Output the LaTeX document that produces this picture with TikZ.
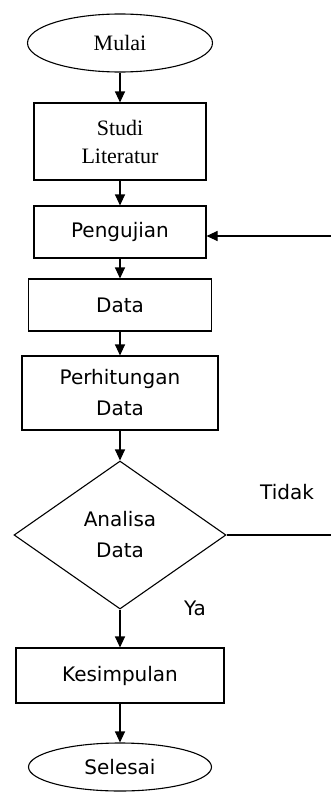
\documentclass[tikz,border=0pt]{standalone}
\usepackage{fontspec}
\setmainfont{Liberation Serif}
\newfontfamily\sansfont{DejaVu Sans}
\usetikzlibrary{shapes.geometric,arrows.meta}
\tikzset{
    box/.style={draw, line width=1.1pt, inner sep=0pt, align=center, font=\sansfont\fontsize{20}{31}\selectfont},
    oval/.style={box, ellipse},
    dec/.style={box, diamond},
    lbl/.style={inner sep=0pt, font=\sansfont\fontsize{20}{23}\selectfont},
    arr/.style={line width=1.1pt, -{Triangle[length=11pt,width=10pt]}}}
\begin{document}
\begin{tikzpicture}[x=1pt, y=-1pt]
\useasboundingbox (0,0) rectangle (331,792);
\node[oval, minimum width=185, minimum height=58, font=\fontsize{22}{27}\selectfont] (mulai) at (120,43) {Mulai};
\node[box, minimum width=172, minimum height=77, font=\fontsize{22}{28}\selectfont] (studi) at (120,141.5) {Studi\\Literatur};
\node[box, minimum width=172, minimum height=52] (uji) at (120,232) {Pengujian};
\node[box, minimum width=183, minimum height=52] (data) at (120,305) {Data};
\node[box, minimum width=196, minimum height=74] (hitung) at (120,393) {Perhitungan\\Data};
\node[dec, minimum width=212, minimum height=148] (analisa) at (120,535) {Analisa\\Data};
\node[box, minimum width=208, minimum height=55] (simpul) at (120,675.5) {Kesimpulan};
\node[oval, minimum width=183, minimum height=48] (selesai) at (120,767) {Selesai};
\node[lbl] (tidak) at (287,492) {Tidak};
\node[lbl] (ya) at (195,608) {Ya};
\coordinate (r1) at (331,236);
\coordinate (r2) at (331,535);
\foreach \a/\b in {mulai/studi, studi/uji, uji/data, data/hitung, hitung/analisa, analisa/simpul, simpul/selesai}
    \draw[arr] (\a) -- (\b);
\draw[arr] (r1) -- (uji.east |- r1);
\draw[line width=1.1pt] (analisa.east) -- (r2);
\end{tikzpicture}
\end{document}
